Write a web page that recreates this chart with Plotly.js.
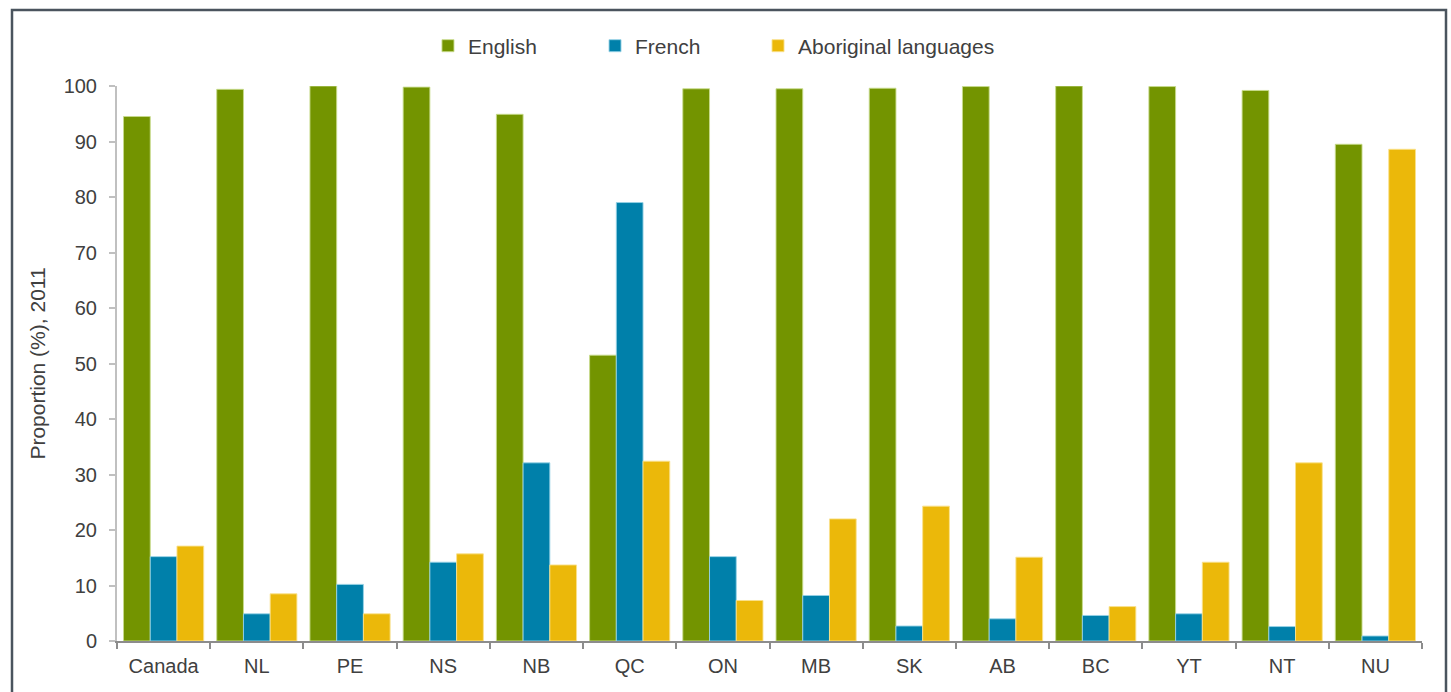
<!DOCTYPE html>
<html>
<head>
<meta charset="utf-8">
<script src="https://cdn.plot.ly/plotly-3.0.1.min.js"></script>
<style>
  html, body { margin: 0; padding: 0; background: #ffffff; }
  #chart { width: 1451px; height: 692px; }
</style>
</head>
<body>
<div id="chart"></div>
<script>
const categories = ["Canada", "NL", "PE", "NS", "NB", "QC", "ON", "MB", "SK", "AB", "BC", "YT", "NT", "NU"];
const english    = [94.5, 99.4, 100.0, 99.8, 94.9, 51.5, 99.5, 99.5, 99.6, 99.9, 100.0, 99.9, 99.2, 89.5];
const french     = [15.2, 4.9, 10.2, 14.2, 32.1, 79.0, 15.2, 8.2, 2.7, 4.0, 4.6, 4.9, 2.6, 0.9];
const aboriginal = [17.1, 8.5, 4.9, 15.7, 13.7, 32.4, 7.3, 22.0, 24.3, 15.1, 6.2, 14.2, 32.1, 88.6];
const seriesNames = ["English", "French", "Aboriginal languages"];
const yTicks = [0, 10, 20, 30, 40, 50, 60, 70, 80, 90, 100];

const colors = ["#739400", "#0080aa", "#ebb80a"];
const lineColors = ["rgba(200,220,140,0.9)", "rgba(150,210,230,0.9)", "rgba(250,225,140,0.9)"];
const values = [english, french, aboriginal];
const legendIds = ["legend", "legend2", "legend3"];
const legendX = [0.2383, 0.3663, 0.4912];

const traces = values.map((v, i) => ({
  type: "bar",
  name: seriesNames[i],
  x: categories,
  y: v,
  legend: legendIds[i],
  marker: { color: colors[i], line: { color: lineColors[i], width: 1 } },
  hoverinfo: "x+y+name"
}));

const textColor = "#404040";
const font = "Liberation Sans, Arial, sans-serif";

function legendObj(x) {
  return {
    orientation: "h",
    x: x,
    xanchor: "left",
    y: 1.072,
    yanchor: "middle",
    font: { family: font, size: 21, color: textColor },
    bgcolor: "rgba(0,0,0,0)"
  };
}

const layout = {
  width: 1451,
  height: 692,
  margin: { l: 117, r: 29, t: 86, b: 51 },
  paper_bgcolor: "#ffffff",
  plot_bgcolor: "#ffffff",
  font: { family: font, color: textColor, size: 20 },
  barmode: "group",
  bargap: 0.14,
  bargroupgap: 0,
  showlegend: true,
  legend: legendObj(legendX[0]),
  legend2: legendObj(legendX[1]),
  legend3: legendObj(legendX[2]),
  xaxis: {
    type: "category",
    showgrid: false,
    zeroline: false,
    showline: true,
    linecolor: "#8c8c8c",
    linewidth: 2,
    ticks: "outside",
    tickson: "boundaries",
    ticklen: 6,
    tickwidth: 2,
    tickcolor: "#8c8c8c",
    tickfont: { family: font, size: 20, color: textColor },
    ticklabelstandoff: 6
  },
  yaxis: {
    range: [0, 100],
    tickvals: yTicks,
    ticktext: yTicks.map(String),
    showgrid: false,
    zeroline: false,
    showline: true,
    linecolor: "#c0c0c0",
    linewidth: 2,
    ticks: "outside",
    ticklen: 6,
    tickwidth: 2,
    tickcolor: "#c0c0c0",
    tickfont: { family: font, size: 20, color: textColor },
    ticklabelstandoff: 8,
    title: { text: "Proportion (%), 2011", font: { family: font, size: 21, color: textColor }, standoff: 12 }
  },
  shapes: [{
    type: "rect",
    xref: "paper", yref: "paper",
    x0: (12 - 117) / 1305, x1: (1446 - 117) / 1305,
    y0: (641 - 720) / 555, y1: (641 - 10) / 555,
    line: { color: "#4a545e", width: 2.5 },
    fillcolor: "rgba(0,0,0,0)",
    layer: "below"
  }]
};

Plotly.newPlot("chart", traces, layout, { displayModeBar: false, staticPlot: true });
</script>
</body>
</html>
